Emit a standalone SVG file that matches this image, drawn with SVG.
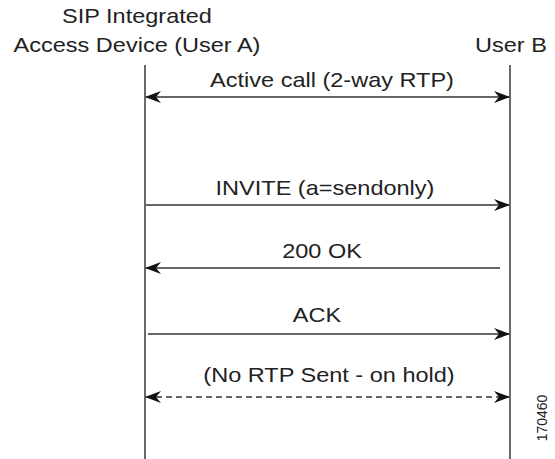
<svg xmlns="http://www.w3.org/2000/svg" width="555" height="459" viewBox="0 0 555 459">
  <style>
    .lbl { font-family: "Liberation Sans", Arial, sans-serif; font-size: 21px; fill: #222; }
    .mid { text-anchor: middle; }
    .life { stroke: #444; stroke-width: 1.6; fill: none; }
    .msg { stroke: #333; stroke-width: 1.4; fill: none; }
    .dash { stroke-dasharray: 6 4; }
    .tag { font-family: "Liberation Sans", Arial, sans-serif; font-size: 14px; fill: #222; text-anchor: middle; }
  </style>
  <defs>
    <marker id="head" viewBox="0 0 16 12" refX="15" refY="6" markerWidth="16" markerHeight="12" markerUnits="userSpaceOnUse" orient="auto-start-reverse">
      <path d="M0,0 L16,6 L0,12 L5,6 z" fill="#111"/>
    </marker>
  </defs>
  <rect width="555" height="459" fill="#fff"/>

  <!-- participants (labels are drawn slightly widened) -->
  <g id="userA">
    <text class="lbl mid" transform="translate(137,23) scale(1.12,1)">SIP Integrated</text>
    <text class="lbl mid" transform="translate(137,52) scale(1.12,1)">Access Device (User A)</text>
    <line class="life" x1="145" y1="65" x2="145" y2="459"/>
  </g>
  <g id="userB">
    <text class="lbl" transform="translate(475,52) scale(1.12,1)">User B</text>
    <line class="life" x1="510" y1="65" x2="510" y2="459"/>
  </g>

  <!-- messages -->
  <g id="connectors">
    <line class="msg" x1="146" y1="97" x2="509" y2="97" marker-start="url(#head)" marker-end="url(#head)"/>
    <line class="msg" x1="146" y1="205" x2="509" y2="205" marker-end="url(#head)"/>
    <line class="msg" x1="500" y1="268" x2="146" y2="268" marker-end="url(#head)"/>
    <line class="msg" x1="148" y1="334" x2="509" y2="334" marker-end="url(#head)"/>
    <line class="msg dash" x1="146" y1="397" x2="509" y2="397" marker-start="url(#head)" marker-end="url(#head)"/>
  </g>

  <g id="labels">
    <text class="lbl mid" transform="translate(332,87) scale(1.12,1)">Active call (2-way RTP)</text>
    <text class="lbl mid" transform="translate(325,195) scale(1.12,1)">INVITE (a=sendonly)</text>
    <text class="lbl mid" transform="translate(322,258) scale(1.12,1)">200 OK</text>
    <text class="lbl mid" transform="translate(317,322) scale(1.12,1)">ACK</text>
    <text class="lbl mid" transform="translate(329,382) scale(1.12,1)">(No RTP Sent - on hold)</text>
  </g>

  <text class="tag" transform="translate(547,418) rotate(-90)">170460</text>
</svg>
